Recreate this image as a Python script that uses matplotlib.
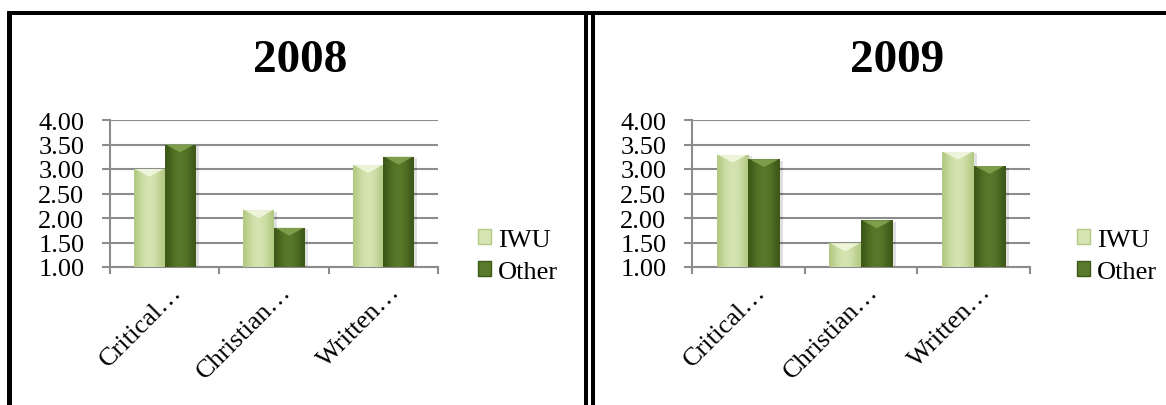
import numpy as np
import matplotlib.pyplot as plt
from matplotlib.patches import Rectangle, Polygon, Patch
from matplotlib.transforms import ScaledTranslation

plt.rcParams['font.family'] = ['Liberation Serif', 'DejaVu Serif']

# survey averages by category
categories = ['Critical…', 'Christian…', 'Written…']
years = ['2008', '2009']
iwu_2008 = [3.00, 2.16, 3.08]
other_2008 = [3.50, 1.80, 3.25]
iwu_2009 = [3.29, 1.48, 3.35]
other_2009 = [3.20, 1.95, 3.06]
series_names = ['IWU', 'Other']
y_ticks = [1.00, 1.50, 2.00, 2.50, 3.00, 3.50, 4.00]

light = {'edge': '#b3ca84', 'mid': '#d6e5b3', 'top': '#f3f8e2'}
dark = {'edge': '#3d5817', 'mid': '#5a7a2b', 'top': '#86a552'}

FS = 19
W, H = 1166, 406
fig = plt.figure(figsize=(W / 100, H / 100), dpi=100)


def shaded_bars(ax, x, vals, width, pal, base=1.0):
    bars = ax.bar(x, np.array(vals) - base, width, bottom=base,
                  color=pal['mid'], zorder=3, linewidth=0)
    grad = np.array([0.0, 0.55, 0.85, 1.0, 0.85, 0.55, 0.0])
    c0 = np.array(plt.matplotlib.colors.to_rgb(pal['edge']))
    c1 = np.array(plt.matplotlib.colors.to_rgb(pal['mid']))
    img = (c0[None, :] * (1 - grad[:, None]) + c1[None, :] * grad[:, None])[None, :, :]
    for b in bars:
        x0, y0 = b.get_x(), b.get_y()
        w, h = b.get_width(), b.get_height()
        # soft drop shadow
        ax.add_patch(Rectangle((x0 + 0.03, y0 - 0.03), w, h, color='#000000',
                               alpha=0.12, zorder=2, linewidth=0))
        im = ax.imshow(img, extent=[x0, x0 + w, y0, y0 + h], aspect='auto',
                       interpolation='bicubic', zorder=4)
        im.set_clip_path(b)
        top = y0 + h
        d = min(0.16, h * 0.5)
        ax.add_patch(Polygon([(x0 + 0.01, top), (x0 + w - 0.01, top),
                              (x0 + w * 0.5, top - d)],
                             closed=True, color=pal['top'], alpha=0.85,
                             zorder=5, linewidth=0))
    return bars


def panel(rect, iwu, other, title, title_x, legend_x):
    ax = fig.add_axes(rect)
    x = np.arange(len(categories))
    w = 0.28
    shaded_bars(ax, x - w / 2, iwu, w, light)
    shaded_bars(ax, x + w / 2, other, w, dark)

    ax.set_xlim(-0.5, len(categories) - 0.5)
    ax.set_ylim(1.0, 4.0)
    ax.set_yticks(y_ticks)
    ax.set_yticklabels([f'{v:.2f}' for v in y_ticks])
    ax.yaxis.grid(True, color='#8c8c8c', linewidth=1.5, zorder=0)
    ax.set_axisbelow(True)

    for s in ['top', 'right']:
        ax.spines[s].set_visible(False)
    for s in ['left', 'bottom']:
        ax.spines[s].set_color('#8c8c8c')
        ax.spines[s].set_linewidth(1.5)

    ax.tick_params(axis='y', length=6, width=1.5, color='#8c8c8c',
                   labelsize=FS, pad=12.5)
    # boundary ticks without labels, category labels on minor ticks
    ax.set_xticks(np.arange(-0.5, len(categories), 1.0))
    ax.set_xticklabels([])
    ax.tick_params(axis='x', which='major', length=5, width=1.5,
                   color='#8c8c8c')
    ax.set_xticks(x, categories, minor=True)
    ax.tick_params(axis='x', which='minor', length=0, pad=18,
                   labelsize=FS)
    shift = ScaledTranslation(0.18, 0, fig.dpi_scale_trans)
    for lab in ax.get_xticklabels(minor=True):
        lab.set_rotation(45)
        lab.set_ha('right')
        lab.set_va('baseline')
        lab.set_rotation_mode('anchor')
        lab.set_transform(lab.get_transform() + shift)

    fig.text(title_x / W, (H - 61) / H, title, fontsize=34,
             fontweight='bold', ha='center', va='center')

    handles = [Patch(facecolor=light['mid'], edgecolor=light['edge']),
               Patch(facecolor=dark['mid'], edgecolor=dark['edge'])]
    fig.legend(handles, series_names, loc='center left',
               bbox_to_anchor=(legend_x / W, (H - 257) / H),
               bbox_transform=fig.transFigure, frameon=False,
               fontsize=FS, handlelength=0.5, handleheight=0.5,
               handletextpad=0.25, labelspacing=0.4, borderpad=0,
               borderaxespad=0)
    return ax


panel([110 / W, (H - 268) / H, 328 / W, 147 / H], iwu_2008, other_2008,
      years[0], 300, 478)
panel([692 / W, (H - 268) / H, 338 / W, 147 / H], iwu_2009, other_2009,
      years[1], 897, 1077)

# black frame lines around the two panels
def frame(x, y, w, h):
    fig.add_artist(Rectangle((x / W, (H - y - h) / H), w / W, h / H,
                             transform=fig.transFigure, color='black',
                             linewidth=0))

frame(7, 12, 1159, 3.5)
frame(7, 12, 4.5, 394)
frame(584, 12, 4, 394)
frame(591, 12, 4, 394)

fig.savefig('out.png', dpi=100)
